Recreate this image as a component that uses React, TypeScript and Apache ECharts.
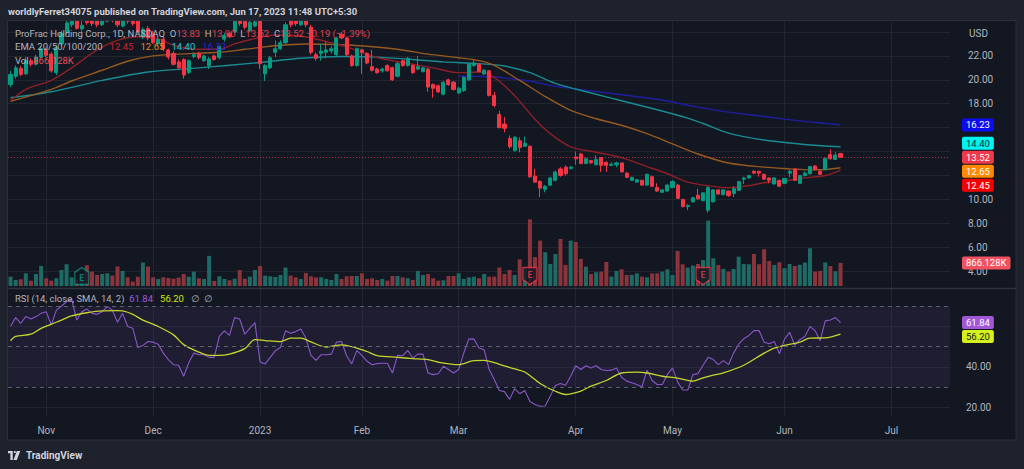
import { useEffect, useRef } from 'react';
import * as echarts from 'echarts';

const FONT = 'Roboto, "Noto Sans", "DejaVu Sans", sans-serif';

// ---------- calendar ----------
const START_DATE = '2022-10-21';
const TOTAL_SLOTS = 185;
const HOLIDAYS = ['2022-11-24', '2022-12-26', '2023-01-02', '2023-01-16', '2023-02-20', '2023-04-07', '2023-05-29', '2023-06-19', '2023-07-04'];
const MONTH_NAMES = ['Jan', 'Feb', 'Mar', 'Apr', 'May', 'Jun', 'Jul', 'Aug', 'Sep', 'Oct', 'Nov', 'Dec'];

// price-scale labels that stay visible (the others sit under the value badges)
const PRICE_LABELS = [22, 20, 18, 10, 8, 6, 4];
const RSI_LABELS = [40, 20];

// ---------- price data: [open, close, low, high] ----------
const CANDLES: [number, number, number, number][] = [
  [19.6, 20.45, 19.4, 20.75], [20.3, 21.0, 20.1, 21.2], [20.95, 20.45, 20.3, 21.15], [20.5, 21.6, 20.4, 21.9], [21.6, 21.3, 21.1, 21.8],
  [21.3, 21.9, 21.2, 22.1], [21.9, 22.6, 21.8, 22.8], [22.55, 22.05, 21.9, 22.7], [22.15, 20.75, 20.6, 22.3], [20.6, 22.7, 20.4, 22.9],
  [23.0, 23.9, 22.8, 24.1], [23.95, 24.75, 23.8, 25.0], [24.6, 25.1, 24.4, 25.4], [25.0, 24.3, 24.2, 25.2], [24.25, 24.55, 24.0, 24.9],
  [25.6, 24.8, 24.6, 25.9], [25.2, 24.7, 24.5, 25.5], [25.0, 24.6, 24.4, 25.3], [24.6, 25.2, 24.5, 25.5], [24.9, 25.6, 24.8, 25.9],
  [25.4, 25.0, 24.8, 25.7], [25.2, 24.6, 24.4, 25.4], [24.5, 25.3, 24.4, 25.5], [25.3, 24.9, 24.7, 25.5], [25.1, 24.7, 24.5, 25.3],
  [24.9, 24.0, 23.9, 25.1], [23.6, 24.2, 23.4, 24.4], [24.3, 23.5, 23.3, 24.5], [23.9, 23.1, 23.0, 24.1], [23.0, 23.4, 22.8, 23.6],
  [23.4, 22.6, 22.4, 23.5], [22.5, 21.9, 21.7, 22.6], [22.2, 21.3, 21.2, 22.4], [21.5, 21.0, 20.9, 21.7], [21.7, 20.4, 20.1, 21.8],
  [20.6, 21.6, 20.5, 21.7], [21.95, 22.1, 21.8, 22.3], [22.2, 21.85, 21.7, 22.35], [21.6, 22.0, 21.5, 22.1], [21.2, 21.75, 20.9, 21.9],
  [22.0, 21.7, 21.6, 22.1], [21.85, 22.8, 21.7, 22.9], [23.4, 23.7, 23.2, 23.9], [23.9, 23.6, 23.5, 24.0], [24.0, 24.9, 23.9, 25.1],
  [25.2, 24.7, 24.5, 25.5], [24.9, 24.4, 24.2, 25.1], [24.1, 24.8, 24.0, 25.0], [24.5, 24.85, 24.4, 25.1], [25.0, 21.35, 20.9, 25.2],
  [20.5, 21.2, 19.9, 21.3], [21.0, 21.85, 20.9, 22.0], [22.3, 22.6, 21.9, 23.3], [22.6, 23.1, 22.5, 23.3], [23.1, 24.6, 23.0, 24.8],
  [25.1, 24.6, 24.4, 25.3], [25.0, 24.7, 24.5, 25.2], [24.6, 25.1, 24.5, 25.3], [25.2, 24.6, 24.4, 25.4], [24.4, 22.3, 22.1, 24.6],
  [22.1, 21.8, 21.6, 22.3], [22.2, 22.4, 21.6, 23.0], [22.3, 22.5, 21.8, 23.2], [22.4, 22.6, 22.2, 22.8], [22.1, 23.5, 22.0, 23.6],
  [23.8, 23.5, 23.4, 24.0], [23.5, 22.1, 22.0, 23.6], [22.0, 21.2, 21.1, 22.1], [21.2, 22.6, 21.1, 22.7], [22.5, 22.3, 20.5, 22.6],
  [22.2, 21.4, 21.3, 22.3], [21.1, 20.8, 20.7, 22.5], [20.9, 20.6, 20.5, 21.0], [20.75, 20.9, 20.6, 21.0], [21.2, 20.75, 20.7, 21.3],
  [21.0, 20.0, 19.9, 21.1], [20.3, 21.35, 20.2, 21.5], [21.6, 21.2, 21.1, 21.7], [21.2, 21.8, 21.1, 21.9], [21.2, 20.6, 20.5, 21.3],
  [20.9, 21.1, 20.8, 22.0], [20.7, 21.0, 20.6, 21.1], [20.9, 19.4, 19.0, 21.0], [19.6, 19.3, 18.5, 19.7], [19.5, 19.0, 18.9, 19.6],
  [18.8, 19.8, 18.7, 19.9], [20.0, 19.6, 19.5, 20.1], [19.8, 19.2, 19.1, 19.9], [18.9, 19.3, 18.8, 19.4], [19.1, 20.2, 19.0, 20.3],
  [20.0, 21.3, 19.9, 21.4], [21.2, 21.4, 21.1, 21.7], [21.3, 20.7, 20.6, 21.4], [20.5, 20.8, 20.4, 20.9], [20.75, 18.7, 18.6, 20.8],
  [18.7, 17.85, 17.7, 19.0], [17.1, 16.0, 15.95, 17.4], [16.3, 15.95, 15.6, 16.9], [15.1, 14.4, 14.25, 15.35], [14.1, 15.2, 14.0, 15.3],
  [14.9, 14.35, 13.95, 15.2], [14.45, 14.7, 14.4, 15.25], [14.45, 11.9, 11.8, 14.5], [11.95, 11.45, 11.4, 12.55], [11.5, 10.95, 10.2, 11.6],
  [10.85, 11.1, 10.6, 11.2], [11.2, 11.8, 11.1, 11.9], [11.6, 12.3, 11.5, 12.4], [12.55, 12.0, 11.9, 12.7], [12.7, 12.15, 12.0, 12.85],
  [12.6, 12.7, 12.5, 12.8], [13.55, 13.4, 12.9, 14.0], [13.8, 13.0, 12.95, 13.9], [13.0, 13.4, 12.95, 13.5], [13.25, 13.05, 13.0, 13.3],
  [12.9, 13.35, 12.85, 13.7], [13.5, 12.85, 12.3, 13.55], [13.1, 12.85, 12.3, 13.2], [12.85, 12.95, 12.8, 13.1], [12.9, 13.05, 12.7, 13.15],
  [13.05, 12.3, 12.25, 13.1], [12.2, 11.85, 11.8, 12.3], [11.6, 11.85, 11.55, 11.9], [11.45, 11.65, 11.4, 11.7], [11.6, 11.2, 11.15, 11.65],
  [11.2, 12.1, 11.15, 12.15], [11.9, 11.1, 11.05, 12.0], [11.0, 10.7, 10.65, 11.35], [10.6, 10.8, 10.55, 10.85], [10.7, 11.2, 10.65, 11.3],
  [11.0, 11.5, 10.95, 11.6], [11.2, 10.1, 10.05, 11.3], [10.0, 9.4, 9.35, 10.05], [9.4, 9.5, 9.1, 9.6], [9.8, 10.15, 9.75, 10.2],
  [10.35, 10.05, 10.0, 10.9], [9.9, 10.55, 9.85, 10.6], [9.1, 11.0, 8.9, 11.1], [9.8, 10.8, 9.75, 10.85], [10.8, 10.45, 10.4, 10.85],
  [10.4, 10.8, 10.35, 10.85], [10.7, 10.33, 10.2, 10.75], [10.5, 10.9, 10.2, 11.1], [10.75, 11.5, 10.7, 11.55], [11.7, 11.8, 11.3, 11.9],
  [11.8, 12.0, 11.75, 12.05], [12.35, 12.2, 12.15, 12.45], [12.35, 12.2, 11.9, 12.4], [12.1, 11.7, 11.65, 12.15], [11.8, 11.6, 11.35, 11.85],
  [11.3, 11.8, 11.25, 11.85], [11.6, 11.1, 11.05, 11.65], [11.35, 11.75, 11.3, 11.8], [12.2, 12.35, 11.85, 12.5], [12.55, 11.6, 11.55, 12.6],
  [11.35, 12.0, 11.3, 12.05], [12.0, 12.2, 11.9, 12.35], [12.15, 12.75, 12.1, 12.8], [12.8, 12.5, 12.45, 12.85], [12.35, 12.1, 12.05, 12.55],
  [12.5, 13.45, 12.45, 13.5], [13.75, 13.4, 13.35, 14.2], [13.35, 13.71, 13.3, 13.95], [13.83, 13.52, 13.52, 13.9],
];

const VOLUME = [
  350000, 225000, 250000, 475000, 200000, 450000, 750000, 290000, 200000, 290000,
  600000, 815000, 325000, 230000, 300000, 780000, 540000, 415000, 450000, 475000,
  390000, 730000, 565000, 325000, 165000, 350000, 880000, 730000, 325000, 265000,
  325000, 300000, 275000, 315000, 450000, 350000, 540000, 290000, 265000, 1130000,
  190000, 365000, 265000, 215000, 275000, 600000, 275000, 350000, 600000, 750000,
  390000, 365000, 340000, 415000, 690000, 390000, 325000, 265000, 490000, 365000,
  325000, 325000, 265000, 225000, 450000, 265000, 365000, 375000, 375000, 475000,
  265000, 290000, 225000, 265000, 200000, 375000, 375000, 325000, 290000, 225000,
  565000, 415000, 450000, 290000, 200000, 215000, 375000, 375000, 475000, 265000,
  325000, 350000, 290000, 450000, 350000, 350000, 690000, 450000, 600000, 415000,
  1000000, 665000, 2500000, 1080000, 1700000, 1265000, 825000, 1200000, 1765000, 790000,
  1700000, 1650000, 1015000, 725000, 450000, 515000, 540000, 900000, 350000, 565000,
  625000, 415000, 415000, 475000, 350000, 325000, 475000, 475000, 540000, 625000,
  415000, 1315000, 815000, 690000, 765000, 825000, 975000, 2450000, 1040000, 790000,
  640000, 540000, 640000, 1100000, 825000, 815000, 1200000, 815000, 1380000, 940000,
  790000, 890000, 665000, 825000, 750000, 790000, 880000, 1415000, 540000, 565000,
  880000, 750000, 550000, 866128,
];

// EMA lines: [bar index, value]
const EMA20: [number, number][] = [[0, 18.25], [3, 19.2], [8, 19.95], [12, 21.0], [17, 22.5], [21, 23.3], [25, 23.6], [29, 23.4], [32, 22.9], [36, 22.55], [41, 22.55], [44, 23.0], [47, 23.35], [52, 23.75], [56, 23.7], [59, 23.5], [62, 23.2], [66, 22.75], [72, 21.85], [77, 21.45], [83, 21.0], [88, 20.6], [92, 20.65], [95, 20.2], [98, 19.1], [100, 18.2], [103, 16.7], [106, 15.5], [110, 14.4], [115, 13.95], [120, 13.5], [125, 12.75], [129, 12.15], [133, 11.45], [137, 11.15], [141, 10.98], [145, 11.15], [148, 11.4], [152, 11.55], [156, 11.8], [160, 12.0], [163, 12.45]];
const EMA50: [number, number][] = [[0, 18.2], [8, 19.2], [12, 19.9], [18, 20.8], [23, 21.55], [28, 22.0], [33, 22.15], [41, 22.3], [46, 22.55], [52, 22.85], [58, 23.0], [64, 22.95], [70, 22.8], [76, 22.55], [82, 22.15], [88, 21.85], [92, 21.6], [95, 21.2], [100, 19.95], [105, 18.6], [110, 17.45], [115, 16.75], [120, 16.2], [125, 15.5], [130, 14.65], [135, 13.8], [141, 13.05], [148, 12.7], [153, 12.56], [157, 12.47], [160, 12.5], [163, 12.65]];
const EMA100: [number, number][] = [[0, 18.5], [8, 19.0], [18, 19.95], [27, 20.65], [37, 21.0], [49, 21.45], [57, 21.8], [65, 21.95], [72, 21.9], [79, 21.7], [85, 21.5], [92, 21.35], [97, 21.15], [102, 20.6], [107, 19.7], [114, 18.9], [120, 18.25], [127, 17.5], [133, 16.8], [136, 16.35], [141, 15.55], [148, 14.97], [155, 14.64], [160, 14.47], [163, 14.4]];
const EMA200: [number, number][] = [[88, 20.3], [94, 20.28], [98, 20.1], [102, 19.9], [107, 19.45], [114, 19.08], [120, 18.75], [127, 18.38], [134, 17.8], [141, 17.3], [148, 16.94], [155, 16.57], [160, 16.36], [163, 16.23]];

const RSI = [
  60.0, 64.3, 61.5, 64.8, 63.6, 64.8, 66.4, 67.2, 60.7, 68.0,
  70.0, 72.1, 73.4, 63.1, 67.2, 68.5, 66.4, 65.9, 67.2, 69.7,
  68.0, 62.0, 66.4, 59.9, 59.1, 49.6, 50.6, 52.5, 52.2, 51.2,
  46.8, 43.6, 41.1, 40.8, 35.4, 42.0, 46.8, 46.0, 46.0, 44.7,
  44.7, 55.0, 57.8, 55.5, 64.3, 63.6, 56.1, 59.1, 61.8, 42.4,
  41.5, 44.7, 48.0, 49.6, 57.8, 56.6, 57.4, 58.7, 54.2, 45.7,
  43.2, 46.0, 46.0, 46.3, 52.2, 52.5, 45.5, 41.5, 48.0, 45.7,
  42.8, 41.1, 41.6, 41.8, 41.8, 37.0, 45.7, 45.5, 48.1, 44.4,
  46.3, 46.3, 37.0, 36.2, 36.6, 40.3, 38.7, 37.0, 38.7, 46.8,
  53.7, 53.8, 49.3, 48.5, 38.7, 33.8, 28.4, 27.8, 24.0, 29.2,
  26.8, 28.4, 22.9, 21.5, 20.6, 20.7, 25.6, 30.8, 31.8, 31.0,
  35.4, 40.6, 38.7, 40.6, 39.5, 40.6, 38.7, 38.2, 38.4, 39.5,
  34.9, 33.0, 32.2, 31.3, 30.2, 38.4, 33.3, 31.3, 31.3, 36.2,
  39.5, 32.6, 28.6, 28.6, 36.2, 36.7, 40.8, 44.7, 43.6, 41.1,
  43.1, 41.1, 46.8, 51.2, 53.9, 55.5, 57.9, 57.9, 52.2, 51.4,
  52.5, 46.5, 53.7, 57.1, 50.8, 53.4, 55.0, 59.9, 57.9, 52.9,
  62.7, 63.1, 64.3, 61.84,
];

const RSI_SMA: [number, number][] = [[0, 52.9], [1, 55.0], [4, 56.1], [6, 59.0], [9, 62.0], [12, 65.1], [15, 66.7], [18, 67.6], [21, 67.7], [22, 67.6], [24, 65.9], [26, 63.1], [29, 59.9], [32, 55.8], [34, 51.0], [37, 47.3], [39, 45.7], [41, 45.7], [43, 46.3], [46, 49.0], [48, 53.4], [50, 53.0], [53, 52.5], [55, 54.2], [57, 54.2], [59, 52.3], [62, 49.8], [65, 50.9], [68, 49.3], [70, 47.6], [72, 45.6], [76, 44.7], [79, 44.1], [82, 43.6], [84, 42.3], [88, 41.1], [91, 43.1], [93, 43.2], [96, 41.3], [99, 39.0], [101, 37.5], [104, 31.8], [107, 28.0], [109, 26.4], [112, 28.1], [114, 30.5], [117, 33.3], [120, 37.0], [123, 37.4], [125, 37.0], [128, 35.4], [131, 34.5], [134, 33.0], [136, 34.6], [138, 35.9], [140, 37.0], [144, 40.8], [148, 46.8], [150, 49.3], [152, 50.6], [155, 52.2], [157, 54.2], [160, 54.3], [163, 56.2]];

const RSI_LEVELS = [70, 50, 30];
const EARNINGS = [{ index: 14, beat: true }, { index: 102, beat: false }, { index: 136, beat: false }];

// ---------- styles ----------
const UP = '#089981';
const DOWN = '#f23645';
const VOL_UP = '#1d6b64';
const VOL_DOWN = '#8c343c';
const BG = '#131722';
const OUTER = '#1e222d';
const GRID = '#21252f';
const TXT = '#b2b5be';
const C_EMA20 = '#8e1f27';
const C_EMA50 = '#97591f';
const C_EMA100 = '#1a8b93';
const C_EMA200 = '#1e1ea3';
const C_RSI = '#8a57c9';
const C_SMA = '#c5d62c';
const LEG = 9.5;

const LOGO_D = 'M0 0H14V28H7V7H0Z M16.5 3.5a3.5 3.5 0 1 0 7 0a3.5 3.5 0 1 0 -7 0Z M26 0H36L26 28H16Z';
echarts.graphic.registerShape('tvlogo', echarts.graphic.extendPath(LOGO_D, {}));

function buildTradingDays(start: string, count: number, holidays: string[]): string[] {
  const out: string[] = [];
  const d = new Date(start + 'T00:00:00Z');
  while (out.length < count) {
    const iso = d.toISOString().slice(0, 10);
    const wd = d.getUTCDay();
    if (wd !== 0 && wd !== 6 && holidays.indexOf(iso) < 0) out.push(iso);
    d.setUTCDate(d.getUTCDate() + 1);
  }
  return out;
}

const last = <T,>(a: T[]) => a[a.length - 1];
const inList = (v: number, list: number[]) => list.some((x) => Math.abs(x - v) < 1e-6);

export default function App() {
  const ref = useRef<HTMLDivElement | null>(null);
  useEffect(() => {
    if (!ref.current) return;
    const chart = echarts.init(ref.current, null, { renderer: 'svg' });
    const dates = buildTradingDays(START_DATE, TOTAL_SLOTS, HOLIDAYS);
    const monthStart = dates.map((d, i) => i > 0 && d.slice(0, 7) !== dates[i - 1].slice(0, 7));
    const isMonth = (idx: number) => !!monthStart[idx];
    const monthLabel = (v: string) => {
      const m = +v.slice(5, 7);
      return m === 1 ? v.slice(0, 4) : MONTH_NAMES[m - 1];
    };
    const n = CANDLES.length;
    const lastC = CANDLES[n - 1];
    const prevClose = CANDLES[n - 2][1];
    const chg = lastC[1] - prevClose;
    const chgPct = (chg / prevClose) * 100;
    const signed = (v: number, d: number) => (v < 0 ? '\u2212' : '+') + Math.abs(v).toFixed(d);
    const lastVol = last(VOLUME);
    const volText = (lastVol / 1000).toFixed(3) + 'K';

    const catAxis = (gridIndex: number, extra: any) => ({
      type: 'category', gridIndex, data: dates, boundaryGap: true,
      axisLine: { show: false }, axisTick: { show: false },
      axisPointer: { show: false },
      ...extra,
    });
    const vSplit = { show: true, interval: (i: number) => isMonth(i), alignWithLabel: true, lineStyle: { color: GRID, width: 1 } };

    const option: any = {
      animation: false,
      backgroundColor: BG,
      textStyle: { fontFamily: FONT },
      grid: [
        { left: 8, right: 74, top: 20, height: 268, outerBoundsMode: 'none' },
        { left: 8, right: 74, top: 206, height: 80, outerBoundsMode: 'none' },
        { left: 8, right: 74, top: 289, height: 127, outerBoundsMode: 'none' },
      ],
      xAxis: [
        catAxis(0, { axisLabel: { show: false }, splitLine: vSplit }),
        catAxis(1, { axisLabel: { show: false }, splitLine: { show: false } }),
        catAxis(2, {
          axisLabel: { interval: (i: number) => isMonth(i), formatter: monthLabel, color: TXT, fontSize: 10, fontFamily: FONT, margin: 9 },
          splitLine: vSplit,
        }),
      ],
      yAxis: [
        {
          type: 'value', gridIndex: 0, position: 'right', min: 2.6, max: 25, splitNumber: 11,
          axisLine: { show: false }, axisTick: { show: false },
          axisLabel: {
            color: TXT, fontSize: 10, fontFamily: FONT, margin: 18,
            formatter: (v: number) => (inList(v, PRICE_LABELS) ? v.toFixed(2) : ''),
          },
          splitLine: { show: true, showMinLine: false, lineStyle: { color: GRID } },
        },
        { type: 'value', gridIndex: 1, min: 0, max: 3000000, show: false, splitLine: { show: false } },
        {
          type: 'value', gridIndex: 2, position: 'right', min: 15.8, max: 78.4, splitNumber: 3,
          axisLine: { show: false }, axisTick: { show: false },
          axisLabel: {
            color: TXT, fontSize: 10, fontFamily: FONT, margin: 16,
            formatter: (v: number) => (inList(v, RSI_LABELS) ? v.toFixed(2) : ''),
          },
          splitLine: { show: true, showMinLine: false, showMaxLine: false, lineStyle: { color: GRID } },
        },
      ],
      series: [
        {
          type: 'bar', name: 'Vol', xAxisIndex: 1, yAxisIndex: 1, z: 1, barWidth: 4,
          data: VOLUME.map((v, i) => ({ value: v, itemStyle: { color: CANDLES[i][1] >= CANDLES[i][0] ? VOL_UP : VOL_DOWN } })),
          silent: true,
        },
        {
          type: 'scatter', xAxisIndex: 1, yAxisIndex: 1, z: 4, silent: true,
          data: EARNINGS.map((e) => ({
            value: [e.index, 375000],
            symbol: e.beat ? 'path://M6 0L12 4.5V16H0V4.5Z' : 'path://M0 0H12V11.5L6 16L0 11.5Z',
            symbolSize: [14, 17],
            itemStyle: { color: BG, borderColor: e.beat ? UP : DOWN, borderWidth: 1.3 },
            label: { show: true, formatter: 'E', position: 'inside', color: e.beat ? UP : DOWN, fontSize: 9, fontWeight: 'bold', fontFamily: FONT, offset: [0, e.beat ? 1.5 : -1] },
          })),
        },
        {
          type: 'line', xAxisIndex: 0, yAxisIndex: 0, data: EMA200, showSymbol: false, smooth: 0.3, z: 2,
          lineStyle: { color: C_EMA200, width: 1.4 }, silent: true,
        },
        {
          type: 'line', xAxisIndex: 0, yAxisIndex: 0, data: EMA100, showSymbol: false, smooth: 0.3, z: 2,
          lineStyle: { color: C_EMA100, width: 1.4 }, silent: true,
        },
        {
          type: 'line', xAxisIndex: 0, yAxisIndex: 0, data: EMA50, showSymbol: false, smooth: 0.3, z: 2,
          lineStyle: { color: C_EMA50, width: 1.4 }, silent: true,
        },
        {
          type: 'line', xAxisIndex: 0, yAxisIndex: 0, data: EMA20, showSymbol: false, smooth: 0.3, z: 2,
          lineStyle: { color: C_EMA20, width: 1.4 }, silent: true,
        },
        {
          type: 'candlestick', xAxisIndex: 0, yAxisIndex: 0, z: 3, barWidth: 3.6, silent: true,
          data: CANDLES.map((c) => [c[0], c[1], c[2], c[3]]),
          itemStyle: { color: UP, color0: DOWN, borderColor: UP, borderColor0: DOWN, borderWidth: 1 },
          markLine: {
            silent: true, symbol: ['none', 'none'], label: { show: false },
            lineStyle: { color: DOWN, type: [1, 2], width: 1, opacity: 0.75 },
            data: [{ yAxis: lastC[1] }],
          },
        },
        {
          type: 'line', xAxisIndex: 2, yAxisIndex: 2, data: RSI, showSymbol: false, z: 3, silent: true,
          lineStyle: { color: C_RSI, width: 1.1 },
          markArea: {
            silent: true,
            itemStyle: { color: 'rgba(126,87,194,0.1)' },
            data: [[{ yAxis: RSI_LEVELS[0] }, { yAxis: RSI_LEVELS[2] }]],
          },
          markLine: {
            silent: true, symbol: ['none', 'none'], label: { show: false },
            lineStyle: { color: '#5d606b', type: [4, 4], width: 1 },
            data: RSI_LEVELS.map((v) => ({ yAxis: v })),
          },
        },
        {
          type: 'line', xAxisIndex: 2, yAxisIndex: 2, data: RSI_SMA, showSymbol: false, smooth: 0.3, z: 3, silent: true,
          lineStyle: { color: C_SMA, width: 1.3 },
        },
      ],
    };
    chart.setOption(option);

    // ---------- right-scale badges positioned through the axis scales ----------
    type Badge = { id: string; axis: number; value: number; text: string; bg: string; fg: string; fixed?: boolean; y?: number };
    const priceBadges: Badge[] = [
      { id: 'b200', axis: 0, value: last(EMA200)[1], text: last(EMA200)[1].toFixed(2), bg: '#0c0cf2', fg: '#ffffff' },
      { id: 'b100', axis: 0, value: last(EMA100)[1], text: last(EMA100)[1].toFixed(2), bg: '#00f2f2', fg: '#0c2d33' },
      { id: 'bpx', axis: 0, value: lastC[1], text: lastC[1].toFixed(2), bg: '#ef3a4b', fg: '#ffffff', fixed: true },
      { id: 'b50', axis: 0, value: last(EMA50)[1], text: last(EMA50)[1].toFixed(2), bg: '#ff8a00', fg: '#ffffff' },
      { id: 'b20', axis: 0, value: last(EMA20)[1], text: last(EMA20)[1].toFixed(2), bg: '#f50000', fg: '#ffffff' },
    ];
    const rsiBadges: Badge[] = [
      { id: 'brsi', axis: 2, value: last(RSI), text: last(RSI).toFixed(2), bg: '#a257d6', fg: '#ffffff', fixed: true },
      { id: 'bsma', axis: 2, value: last(RSI_SMA)[1], text: last(RSI_SMA)[1].toFixed(2), bg: '#d5f01c', fg: '#131722' },
    ];
    const volBadge: Badge = { id: 'bvol', axis: 1, value: lastVol, text: volText, bg: '#f0535f', fg: '#ffffff' };

    const GAP = 14;
    const place = (list: Badge[]) => {
      list.forEach((b) => { b.y = chart.convertToPixel({ yAxisIndex: b.axis }, b.value) as number; });
      const s = [...list].sort((a, b) => (a.y as number) - (b.y as number));
      let a = s.findIndex((b) => b.fixed);
      if (a < 0) a = 0;
      for (let i = a + 1; i < s.length; i++) s[i].y = Math.max(s[i].y as number, (s[i - 1].y as number) + GAP);
      for (let i = a - 1; i >= 0; i--) s[i].y = Math.min(s[i].y as number, (s[i + 1].y as number) - GAP);
    };
    place(priceBadges);
    place(rsiBadges);
    place([volBadge]);

    const badgeEl = (b: Badge) => ({
      type: 'text', id: b.id, x: 962, y: b.y, z: 60,
      style: {
        text: b.text, fill: b.fg, backgroundColor: b.bg, padding: [1.5, 4, 1.5, 4], borderRadius: 2,
        fontSize: 9.5, fontFamily: FONT, lineHeight: 10, align: 'left', verticalAlign: 'middle',
      },
    });

    const txt = (id: string, x: number, y: number, text: string, fill: string, size = 10, weight: any = 'normal') => ({
      type: 'text', id, x, y, z: 55,
      style: { text, fill, fontSize: size, fontFamily: FONT, fontWeight: weight, align: 'left', verticalAlign: 'middle' },
    });
    const rich = (id: string, x: number, y: number, text: string, styles: Record<string, string>) => {
      const r: any = {};
      Object.keys(styles).forEach((k) => { r[k] = { fill: styles[k], fontSize: LEG, fontFamily: FONT }; });
      return {
        type: 'text', id, x, y, z: 55,
        style: { text, rich: r, fill: TXT, fontSize: LEG, fontFamily: FONT, align: 'left', verticalAlign: 'middle' },
      };
    };

    const ohlcRed = '#e2414e';
    const f2 = (v: number) => v.toFixed(2);
    const line1 = `{g|ProFrac Holding Corp., 1D, NASDAQ}  {g|O}{r|${f2(lastC[0])}}  {g|H}{r|${f2(lastC[3])}}  {g|L}{r|${f2(lastC[2])}}  {g|C}{r|${f2(lastC[1])}} {r|${signed(chg, 2)} (${signed(chgPct, 2)}%)}`;
    const line2 = `{g|EMA 20/50/100/200}   {a|${f2(last(EMA20)[1])}}   {b|${f2(last(EMA50)[1])}}   {c|${f2(last(EMA100)[1])}}   {d|${f2(last(EMA200)[1])}}`;
    const line3 = `{g|Vol}  {r|${volText}}`;
    const line4 = `{g|RSI (14, close, SMA, 14, 2)}  {p|${f2(last(RSI))}}   {y|${f2(last(RSI_SMA)[1])}}   {g|\u2205}  {g|\u2205}`;

    const graphics: any[] = [
      { type: 'rect', id: 'topStrip', z: 50, shape: { x: 0, y: 0, width: 1024, height: 20 }, style: { fill: OUTER } },
      { type: 'rect', id: 'botStrip', z: 50, shape: { x: 0, y: 440, width: 1024, height: 29 }, style: { fill: OUTER } },
      { type: 'rect', id: 'leftStrip', z: 50, shape: { x: 0, y: 0, width: 7.5, height: 469 }, style: { fill: OUTER } },
      { type: 'rect', id: 'rightStrip', z: 50, shape: { x: 1016, y: 0, width: 8, height: 469 }, style: { fill: OUTER } },
      { type: 'rect', id: 'frame', z: 51, shape: { x: 7.5, y: 20.5, width: 1008.5, height: 419.5 }, style: { fill: 'none', stroke: '#2a2e39', lineWidth: 1 } },
      { type: 'line', id: 'sep', z: 51, shape: { x1: 8, y1: 288.5, x2: 1016, y2: 288.5 }, style: { stroke: '#2e323d', lineWidth: 1.5 } },
      txt('hdr', 8, 11.5, 'worldlyFerret34075 published on TradingView.com, Jun 17, 2023 11:48 UTC+5:30', '#d1d4dc', 9.5, 'bold'),
      rich('l1', 15, 33.3, line1, { g: TXT, r: ohlcRed }),
      rich('l2', 15, 46.7, line2, { g: TXT, a: '#d0242d', b: '#e58c1f', c: '#25c8da', d: '#2424d6' }),
      rich('l3', 15, 60, line3, { g: TXT, r: '#e9505c' }),
      rich('l4', 15, 298.3, line4, { g: TXT, p: '#a05bd8', y: '#d2e41f' }),
      txt('usd', 969, 33, 'USD', TXT),
      { type: 'tvlogo', id: 'logo', x: 8, y: 451, scaleX: 0.34, scaleY: 0.32, z: 60, style: { fill: '#d1d4dc' } },
      txt('tv', 26, 455.5, 'TradingView', '#d1d4dc', 10, 'bold'),
      ...priceBadges.map(badgeEl),
      ...rsiBadges.map(badgeEl),
      badgeEl(volBadge),
    ];
    chart.setOption({ graphic: graphics });

    return () => chart.dispose();
  }, []);
  return <div ref={ref} style={{ position: 'fixed', left: 0, top: 0, width: 1024, height: 469 }} />;
}
